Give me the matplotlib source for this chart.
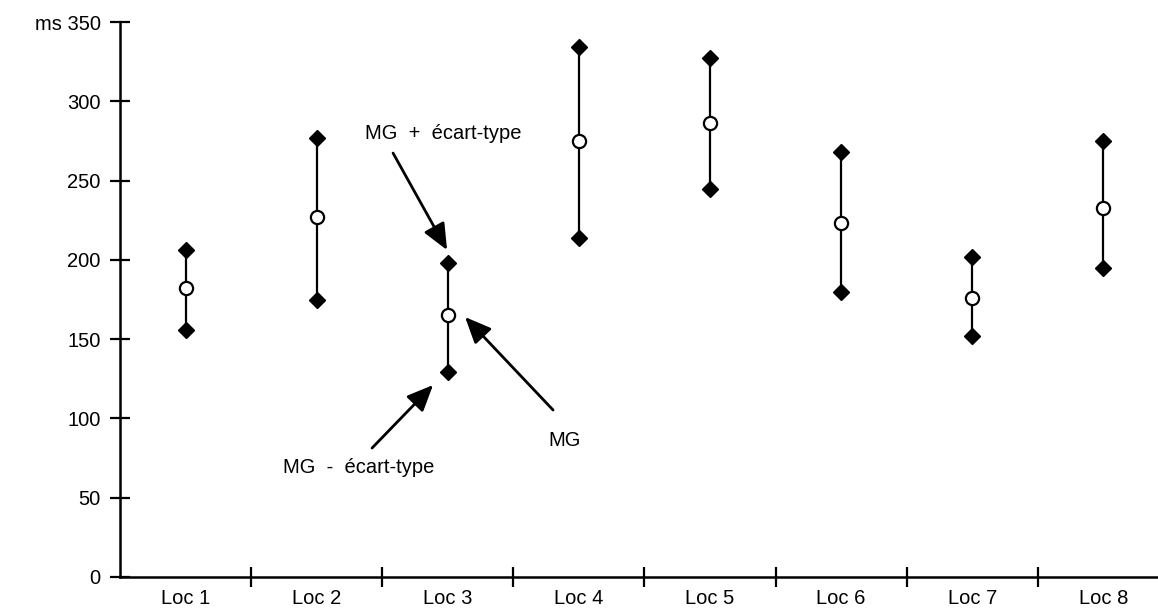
import matplotlib
matplotlib.use("Agg")
import matplotlib.pyplot as plt

categories = ["Loc 1", "Loc 2", "Loc 3", "Loc 4", "Loc 5", "Loc 6", "Loc 7", "Loc 8"]
mean_vals = [182, 227, 165, 275, 286, 223, 176, 233]
upper_vals = [206, 277, 198, 334, 327, 268, 202, 275]
lower_vals = [156, 175, 129, 214, 245, 180, 152, 195]
y_ticks = [0, 50, 100, 150, 200, 250, 300, 350]
y_ticklabels = ["0", "50", "100", "150", "200", "250", "300", "ms 350"]

plt.rcParams['font.family'] = ['Liberation Sans', 'DejaVu Sans']
FS = 14.5

W, H = 1158, 612
fig = plt.figure(figsize=(W / 100, H / 100), dpi=100)
ax = fig.add_axes([120 / W, (H - 577) / H, 1049 / W, 555 / H])
ax.set_xlim(0, len(categories))
ax.set_ylim(0, 350)

xs = [i + 0.5 for i in range(len(categories))]

ax.vlines(xs, lower_vals, upper_vals, colors="black", linewidth=1.6, zorder=2)
ax.plot(xs, upper_vals, linestyle="none", marker="D", markersize=8,
        markerfacecolor="black", markeredgecolor="black", zorder=3)
ax.plot(xs, lower_vals, linestyle="none", marker="D", markersize=8,
        markerfacecolor="black", markeredgecolor="black", zorder=3)
ax.plot(xs, mean_vals, linestyle="none", marker="o", markersize=9.5,
        markerfacecolor="white", markeredgecolor="black", markeredgewidth=1.6, zorder=4)

# spines
for s in ["top", "right"]:
    ax.spines[s].set_visible(False)
for s in ["left", "bottom"]:
    ax.spines[s].set_linewidth(1.8)
    ax.spines[s].set_clip_on(False)

ax.set_yticks(y_ticks)
ax.set_yticklabels(y_ticklabels)
ax.tick_params(axis="y", direction="inout", length=14, width=1.6, labelsize=FS, pad=7)

ax.set_xticks(list(range(1, len(categories))))
ax.set_xticklabels([])
ax.set_xticks(xs, minor=True)
ax.set_xticklabels(categories, minor=True)
ax.tick_params(axis="x", which="major", direction="inout", length=14, width=1.6)
ax.tick_params(axis="x", which="minor", length=0, labelsize=FS, pad=9)

# annotations (figure-pixel positions converted to data)
def px(x, y):
    return ((x - 120) / 131.1, (577 - y) / 1.586)

arrow_kw = dict(arrowstyle="-|>,head_length=1.6,head_width=0.7",
                color="black", facecolor="#4a4a4a", lw=2.0,
                shrinkA=0, shrinkB=0)

ax.annotate("", xy=px(447, 250), xytext=px(393, 153), arrowprops=arrow_kw)
ax.text(*px(365, 133), "MG  +  écart-type", fontsize=FS, ha="left", va="center")

ax.annotate("", xy=px(465, 317), xytext=px(553, 410), arrowprops=arrow_kw)
ax.text(*px(564, 440), "MG", fontsize=FS, ha="center", va="center")

ax.annotate("", xy=px(433, 385), xytext=px(372, 448), arrowprops=arrow_kw)
ax.text(*px(283, 467), "MG  -  écart-type", fontsize=FS, ha="left", va="center")

fig.savefig("out.png", dpi=100)
